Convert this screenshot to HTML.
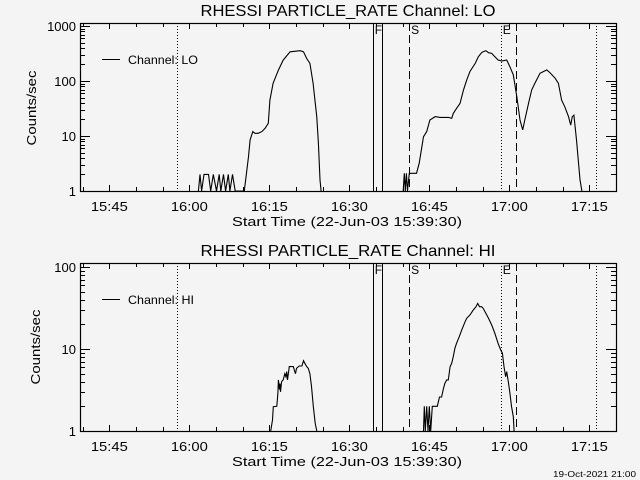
<!DOCTYPE html>
<html><head><meta charset="utf-8"><style>
html,body{margin:0;padding:0;background:#f4f4f4;}
svg{display:block;}
text{font-family:"Liberation Sans",sans-serif;fill:#000;}
</style></head><body>
<svg id="chart" width="640" height="480" viewBox="0 0 640 480" xmlns="http://www.w3.org/2000/svg">
<rect width="640" height="480" fill="#f4f4f4"/>
</svg>
<script>
// Time in minutes after 15:00 (22-Jun-03)
const timeStart = 39.5, timeEnd = 140.0;
const xTickLabels = ["15:45","16:00","16:15","16:30","16:45","17:00","17:15"];
const xTickMinutes = [45,60,75,90,105,120,135];
const loTickLabels = ["1","10","100","1000"];
const hiTickLabels = ["1","10","100"];
const markerLines = [57.7, 94.4, 96.1, 101.2, 118.4, 121.25, 136.25];
const markerStyles = ["dotted","solid","solid","dashed","dotted","dashed","dotted"];

const loTimesA = [61.7,62.0,62.3,62.75,63.6,64.0,64.5,65.1,65.6,65.9,66.4,66.8,67.3,67.6,68.1,68.6,70.3,71.1,71.4,71.9,72.3,72.9,73.6,74.2,74.8,75.1,75.7,76.7,77.6,78.9,80.8,81.4,82.0,82.6,83.2,83.9,84.2,84.5,84.7];
const loValuesA = [1,2,1,2,2,1,2,1,2,1,2,1,2,1,2,1,1,4.2,8.5,12,11.2,11.2,12,13.8,17,45,91,158,240,340,355,340,257,210,91,22,7.4,1.6,1];
const loTimesB = [100.1,100.3,100.5,100.7,100.9,101.25,102.6,103.1,103.9,104.5,105.1,106.1,107.0,108.6,109.2,109.5,110.1,110.75,111.4,112.0,112.6,113.6,114.2,114.8,115.1,115.6,116.1,116.7,117.3,117.9,118.6,119.5,120.1,120.75,121.4,122.0,122.5,122.9,123.6,124.2,124.8,125.75,126.7,127.0,127.6,128.6,129.2,129.8,130.4,131.1,131.5,131.8,132.1,132.6,133.25,133.6];
const loValuesB = [1,2.1,1,2.1,1,2.1,2.1,3.2,9.7,12,19.5,22.5,21.8,21.8,21,25.8,31.8,39,69,104,148,209,277,327,341,356,327,318,277,241,231,241,182,129,52,19.5,12.9,19.5,39,69,91,138,154,159,142,112,91,45,34,22.5,15.8,22.5,24,8.5,1.6,1];

const hiTimesA = [75.25,75.6,75.75,76.4,76.6,76.7,76.9,77.0,77.1,77.3,77.6,77.9,78.1,78.25,78.4,78.75,79.5,79.7,79.9,80.1,80.6,81.1,81.4,81.7,82.0,82.3,82.6,82.9,83.25,83.6,83.9];
const hiValuesA = [1,1.36,1.98,2,2.9,4.2,3.2,3.8,3.0,4.0,4.2,5.0,4.6,5.3,4.2,6.1,6.1,5.5,5.0,5.8,6.2,6.2,7.2,6.6,6.1,5.8,5.0,3.5,2.0,1.24,1];
const hiTimesB = [103.9,104.06,104.25,104.5,104.75,105.0,105.25,105.56,105.75,106.06,106.5,106.9,107.3,107.6,107.9,108.25,108.56,108.9,109.2,109.5,109.8,110.1,110.6,111.06,111.7,112.0,112.6,113.25,113.75,114.06,114.4,114.8,115.1,115.6,116.1,116.7,117.3,117.9,118.4,118.7,119.0,119.3,119.5,119.8,120.1,120.4,120.75,120.9];
const hiValuesB = [1,2,1,2,1,2,1,2,2,2,2,2.6,2.6,3.2,3.8,4.2,4.2,6.1,6.7,8.1,10.2,11.7,14.1,17,21.5,23.7,26,29.9,32.8,36,32.8,32.8,31.3,27.2,23.7,19.6,15.5,11.7,9.7,8.9,6.1,4.6,5.3,4.0,2.9,2.0,1.5,1];

const NS = "http://www.w3.org/2000/svg";
const svg = document.getElementById("chart");
function mk(tag, attrs, parent) {
  const e = document.createElementNS(NS, tag);
  for (const k in attrs) e.setAttribute(k, attrs[k]);
  (parent || svg).appendChild(e);
  return e;
}
const X0 = 80, X1 = 616;
function xScale(t) { return X0 + (t - timeStart) * (X1 - X0) / (timeEnd - timeStart); }

function panel(cfg) {
  const g = mk("g", {});
  
  
  const yTop = cfg.yTop, yBot = cfg.yBot, dec = cfg.dec;
  const yScale = v => yBot - Math.log10(Math.max(v, 1)) * dec;
  // title
  const title = mk("text", {x: 348, y: yTop - 7, "font-size": 16, "text-anchor": "middle", textLength: 295, lengthAdjust: "spacingAndGlyphs"}, g);
  title.textContent = cfg.title;
  
  
  // markers
  markerLines.forEach((t, i) => {
    const x = Math.round(xScale(t)) + 0.5;
    const ln = mk("line", {x1: x, x2: x, y1: yTop, y2: yBot, stroke: "#000", "stroke-width": 1}, g);
    if (markerStyles[i] === "dotted") ln.setAttribute("stroke-dasharray", "1 2");
    if (markerStyles[i] === "dashed") ln.setAttribute("stroke-dasharray", "8 4");
    
    
  });
  [["F", 94.4], ["S", 101.2], ["E", 118.4]].forEach(([s, t]) => {
    const tx = mk("text", {x: xScale(t) + 2, y: yTop + 11, "font-size": 12}, g);
    tx.textContent = s;
    
    
  });
  // axes box
  const box = mk("rect", {x: X0 + 0.5, y: yTop + 0.5, width: X1 - X0, height: yBot - yTop, fill: "none", stroke: "#000", "stroke-width": 1.2}, g);
  
  
  // x ticks
  for (let m = 40; m <= 140; m += 5) {
    const x = Math.round(xScale(m)) + 0.5;
    if (x < X0 || x > X1) continue;
    const len = (m % 15 === 0) ? 6 : 4;
    const t1 = mk("line", {x1: x, x2: x, y1: yBot, y2: yBot - len, stroke: "#000"}, g);
    
    
    const t2 = mk("line", {x1: x, x2: x, y1: yTop, y2: yTop + len, stroke: "#000"}, g);
    
    
  }
  xTickMinutes.forEach((m, i) => {
    const tl = mk("text", {x: xScale(m), y: yBot + 20, "font-size": 13, "text-anchor": "middle", textLength: 37, lengthAdjust: "spacingAndGlyphs"}, g);
    tl.textContent = xTickLabels[i];
    
    
  });
  // y ticks
  const maxLog = (yBot - yTop) / dec;
  for (let d = 0; d <= 4; d++) {
    for (let k = 1; k <= 9; k++) {
      const lv = d + Math.log10(k);
      if (lv > maxLog) continue;
      const y = Math.round(yBot - lv * dec) + 0.5;
      const len = k === 1 ? 10 : 5;
      const a = mk("line", {x1: X0, x2: X0 + len, y1: y, y2: y, stroke: "#000"}, g);
      
      
      const b = mk("line", {x1: X1, x2: X1 - len, y1: y, y2: y, stroke: "#000"}, g);
      
      
    }
  }
  cfg.ticks.forEach((lab, i) => {
    const tl = mk("text", {x: 76, y: yBot - i * dec + 5, "font-size": 13, "text-anchor": "end"}, g);
    tl.textContent = lab;
    
    
  });
  // y title
  const cy = cfg.yTitleY;
  const yt = mk("text", {x: cfg.yTitleX, y: cy, "font-size": 13, "text-anchor": "middle", transform: `rotate(-90 ${cfg.yTitleX} ${cy})`, textLength: 75, lengthAdjust: "spacingAndGlyphs"}, g);
  yt.textContent = "Counts/sec";
  
  
  // x title
  const xt = mk("text", {x: 347, y: yBot + 35, "font-size": 13, "text-anchor": "middle", textLength: 230, lengthAdjust: "spacingAndGlyphs"}, g);
  xt.textContent = "Start Time (22-Jun-03 15:39:30)";
  
  
  // legend
  const ly = yTop + 36.5;
  const ll = mk("line", {x1: 102, x2: 120, y1: ly, y2: ly, stroke: "#000"}, g);
  
  
  const lt = mk("text", {x: 128, y: ly + 4.5, "font-size": 12, textLength: cfg.legendLen, lengthAdjust: "spacingAndGlyphs"}, g);
  lt.textContent = cfg.legend;
  
  
  // series
  cfg.series.forEach(([ts, vs], si) => {
    const pts = ts.map((t, i) => xScale(t).toFixed(1) + "," + yScale(vs[i]).toFixed(1)).join(" ");
    const pl = mk("polyline", {points: pts, fill: "none", stroke: "#000", "stroke-width": 1.1, "stroke-linejoin": "miter"}, g);
    
    
  });
}

panel({name: "lo-channel-panel", title: "RHESSI PARTICLE_RATE Channel: LO", yTop: 23, yBot: 191, dec: 55,
  ticks: loTickLabels, yTitleX: 36, yTitleY: 108, legend: "Channel: LO", legendLen: 70, seriesName: "lo-series",
  series: [[loTimesA, loValuesA], [loTimesB, loValuesB]]});
panel({name: "hi-channel-panel", title: "RHESSI PARTICLE_RATE Channel: HI", yTop: 263, yBot: 431, dec: 82,
  ticks: hiTickLabels, yTitleX: 40, yTitleY: 347, legend: "Channel: HI", legendLen: 66, seriesName: "hi-series",
  series: [[hiTimesA, hiValuesA], [hiTimesB, hiValuesB]]});

const stamp = mk("text", {x: 636, y: 477, "font-size": 8, "text-anchor": "end", textLength: 83, lengthAdjust: "spacingAndGlyphs"});
stamp.textContent = "19-Oct-2021 21:00";


</script>
</body></html>
